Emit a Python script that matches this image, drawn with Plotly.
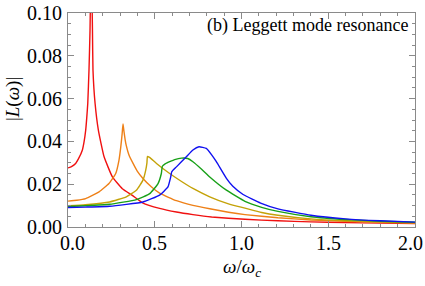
import plotly.graph_objects as go

# ---- data ----
red_x = [0, 0.02, 0.044, 0.06, 0.083, 0.092, 0.102, 0.108, 0.114, 0.121, 0.127, 0.131, 0.134, 0.137, 0.141, 0.144, 0.156, 0.175, 0.208, 0.256, 0.313, 0.371, 0.432, 0.528, 0.625, 0.72, 0.828, 1.02, 1.21, 1.40, 1.60, 1.80, 2.0]
red_y = [0.0276, 0.0282, 0.0297, 0.0318, 0.036, 0.0395, 0.0453, 0.051, 0.0578, 0.0734, 0.092, 0.115, 0.13, 0.115, 0.092, 0.0734, 0.0578, 0.0453, 0.0328, 0.0234, 0.0179, 0.0148, 0.0112, 0.0087, 0.007, 0.0058, 0.0047, 0.0036, 0.0029, 0.0024, 0.0021, 0.0018, 0.0016]

orange_x = [0, 0.05, 0.102, 0.179, 0.236, 0.275, 0.294, 0.305, 0.312, 0.317, 0.322, 0.329, 0.336, 0.352, 0.375, 0.40, 0.432, 0.48, 0.528, 0.625, 0.72, 0.817, 0.925, 1.02, 1.21, 1.40, 1.60, 1.80, 2.0]
orange_y = [0.0121, 0.0125, 0.0133, 0.0164, 0.0203, 0.025, 0.0313, 0.038, 0.0435, 0.0481, 0.045, 0.041, 0.038, 0.0335, 0.0297, 0.026, 0.0227, 0.0188, 0.0158, 0.0123, 0.0101, 0.0085, 0.0069, 0.0058, 0.0043, 0.0033, 0.0027, 0.0022, 0.0019]

yellow_x = [0, 0.1, 0.24, 0.336, 0.394, 0.432, 0.448, 0.455, 0.458, 0.47, 0.51, 0.586, 0.65, 0.72, 0.817, 0.925, 1.02, 1.116, 1.21, 1.40, 1.60, 1.80, 2.0]
yellow_y = [0.0099, 0.0104, 0.0117, 0.0141, 0.0172, 0.0219, 0.0266, 0.030, 0.0330, 0.0325, 0.0297, 0.025, 0.0215, 0.018, 0.0141, 0.0108, 0.0088, 0.0068, 0.0055, 0.0038, 0.0029, 0.0024, 0.002]

green_x = [0, 0.1, 0.24, 0.394, 0.471, 0.519, 0.538, 0.544, 0.56, 0.586, 0.615, 0.654, 0.69, 0.72, 0.77, 0.817, 0.913, 1.02, 1.116, 1.21, 1.40, 1.60, 1.80, 2.0]
green_y = [0.0096, 0.0099, 0.0106, 0.0128, 0.0156, 0.0203, 0.025, 0.0284, 0.0295, 0.0305, 0.0315, 0.0322, 0.032, 0.0305, 0.027, 0.0234, 0.0172, 0.012, 0.0092, 0.0073, 0.0048, 0.0035, 0.0027, 0.0022]

blue_x = [0, 0.1, 0.24, 0.432, 0.528, 0.576, 0.592, 0.598, 0.625, 0.682, 0.72, 0.755, 0.797, 0.828, 0.855, 0.913, 0.95, 1.009, 1.11, 1.21, 1.40, 1.60, 1.80, 2.0]
blue_y = [0.0091, 0.0093, 0.0097, 0.0117, 0.0149, 0.0187, 0.0234, 0.0258, 0.0281, 0.0328, 0.036, 0.0375, 0.0367, 0.0337, 0.0305, 0.0227, 0.019, 0.0152, 0.0112, 0.0085, 0.0055, 0.0038, 0.0029, 0.0023]

x_ticks = [0.0, 0.5, 1.0, 1.5, 2.0]
x_labels = ["0.0", "0.5", "1.0", "1.5", "2.0"]
y_ticks = [0.00, 0.02, 0.04, 0.06, 0.08, 0.10]
y_labels = ["0.00", "0.02", "0.04", "0.06", "0.08", "0.10"]

series = [
    (red_x, red_y, "#f01010"),
    (orange_x, orange_y, "#ee8018"),
    (yellow_x, yellow_y, "#c4a208"),
    (green_x, green_y, "#18a018"),
    (blue_x, blue_y, "#1010f0"),
]

FONT = "Liberation Serif"
fig = go.Figure()
for xs, ys, c in series:
    fig.add_trace(go.Scatter(x=xs, y=ys, mode="lines",
                             line=dict(color=c, width=1.4, shape="spline", smoothing=0.4),
                             showlegend=False, hoverinfo="skip"))

axis_common = dict(
    showgrid=False, zeroline=False, showline=True, linecolor="#8a8a8a",
    linewidth=1, mirror="allticks", ticks="inside", tickcolor="#8a8a8a",
    showticklabels=False,
)
fig.update_xaxes(range=[0, 2.0], tickvals=x_ticks,
                 ticklen=6, minor=dict(dtick=0.1, ticks="inside", ticklen=3, tickcolor="#8a8a8a"),
                 **axis_common)
fig.update_yaxes(range=[0, 0.10], tickvals=y_ticks,
                 ticklen=6, minor=dict(dtick=0.005, ticks="inside", ticklen=3, tickcolor="#8a8a8a"),
                 **axis_common)

tick_font = dict(family=FONT, size=20, color="black")
n = len(x_ticks)
for i, (v, lab) in enumerate(zip(x_ticks, x_labels)):
    shift = 4 if i == 0 else (-5 if i == n - 1 else 0)
    fig.add_annotation(text=lab, x=v, xref="x", xshift=shift, y=0, yref="paper", yshift=-16,
                       xanchor="center", yanchor="middle", showarrow=False, font=tick_font)
for v, lab in zip(y_ticks, y_labels):
    fig.add_annotation(text=lab, x=0, xref="paper", xshift=-4, y=v, yref="y",
                       xanchor="right", yanchor="middle", showarrow=False, font=tick_font)

fig.add_annotation(text="(b) Leggett mode resonance", x=0.986, y=0.94, xref="paper", yref="paper",
                   xanchor="right", yanchor="middle", showarrow=False,
                   font=dict(family=FONT, size=18, color="black"))
fig.add_annotation(text="|<i>L</i>(<i>ω</i>)|", x=-0.16, y=0.6, xref="paper", yref="paper",
                   textangle=-90, xanchor="center", yanchor="middle", showarrow=False,
                   font=dict(family=FONT, size=19, color="black"))
fig.add_annotation(text="<i>ω</i>/<i>ω</i><sub><i>c</i></sub>", x=0.5, y=-0.192, xref="paper", yref="paper",
                   xanchor="center", yanchor="middle", showarrow=False,
                   font=dict(family=FONT, size=19, color="black"))

fig.update_layout(width=425, height=286, margin=dict(l=68, r=10, t=13, b=59),
                  font=dict(family=FONT, size=19, color="black"),
                  plot_bgcolor="white", paper_bgcolor="white", hovermode=False)
fig.write_html("out.html", config={"displayModeBar": False},
               post_script="document.body.style.margin='0';document.body.style.padding='0';")
